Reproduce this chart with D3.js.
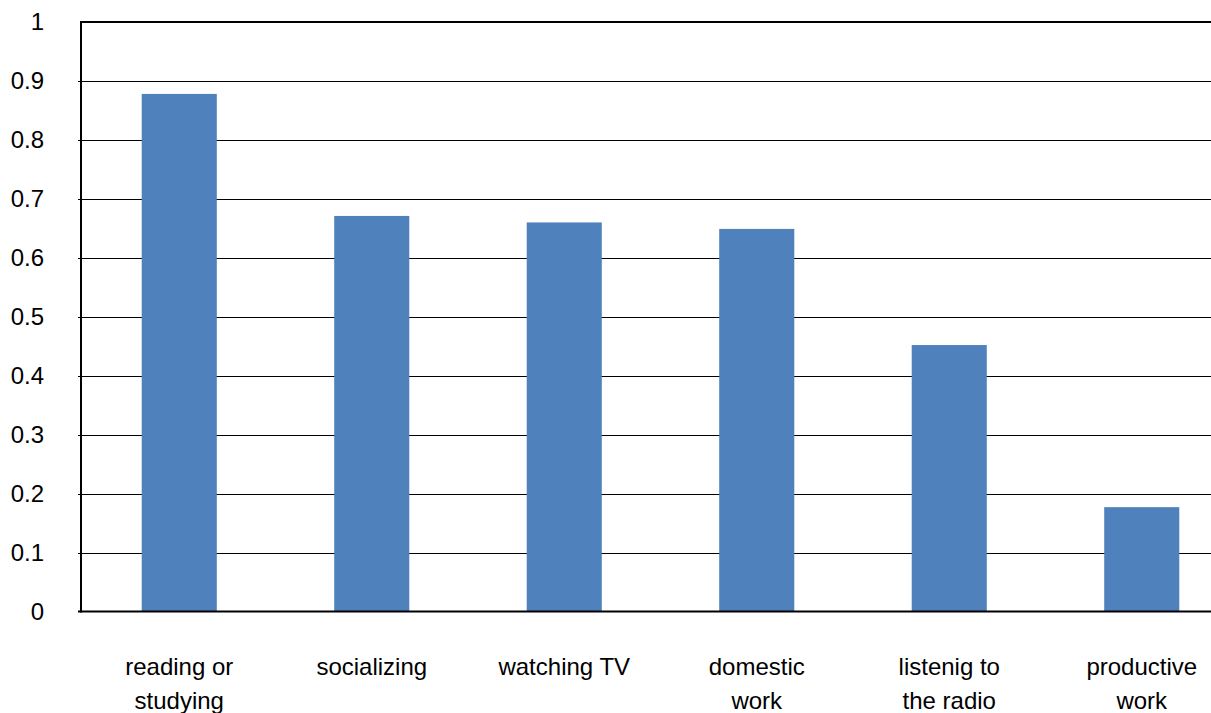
<!DOCTYPE html>
<html>
<head>
<meta charset="utf-8">
<script src="https://cdn.jsdelivr.net/npm/d3@7"></script>
<style>
  html, body { margin: 0; padding: 0; background: #fff; }
  svg { display: block; font-family: "Liberation Sans", Arial, sans-serif; }
</style>
</head>
<body>
<svg id="chart" width="1211" height="713"></svg>
<script>
// Share of respondents by activity
const categories = [
  ["reading or", "studying"],
  ["socializing"],
  ["watching TV"],
  ["domestic", "work"],
  ["listenig to", "the radio"],
  ["productive", "work"]
];
const values = [0.878, 0.671, 0.660, 0.649, 0.452, 0.177];
const yTicks = [0, 0.1, 0.2, 0.3, 0.4, 0.5, 0.6, 0.7, 0.8, 0.9, 1];
const yTickLabels = ["0", "0.1", "0.2", "0.3", "0.4", "0.5", "0.6", "0.7", "0.8", "0.9", "1"];

const svg = d3.select("#chart");
const W = 1211;
const plotLeft = 81, plotTop = 22, plotBottom = 611.5;

const keys = categories.map((c, i) => i);
const x = d3.scaleBand().domain(keys).range([83, 83 + 6 * 192.5])
  .paddingInner(0.61).paddingOuter(0.305);
const y = d3.scaleLinear().domain([0, 1]).range([plotBottom, plotTop]);

// horizontal gridlines
svg.append("g").selectAll("line")
  .data(yTicks.filter(t => t > 0 && t < 1))
  .join("line")
  .attr("x1", plotLeft - 3).attr("x2", W)
  .attr("y1", d => Math.round(y(d)) + 0.5).attr("y2", d => Math.round(y(d)) + 0.5)
  .attr("stroke", "#000").attr("stroke-width", 1);

// bars
svg.append("g").selectAll("rect")
  .data(values)
  .join("rect")
  .attr("x", (d, i) => x(i))
  .attr("width", x.bandwidth())
  .attr("y", d => y(d))
  .attr("height", d => y(0) - y(d))
  .attr("fill", "#4F81BD");

// frame: top edge, left axis, baseline
svg.append("line").attr("x1", plotLeft).attr("x2", W)
  .attr("y1", y(1)).attr("y2", y(1)).attr("stroke", "#000").attr("stroke-width", 2);
svg.append("line").attr("x1", plotLeft).attr("x2", plotLeft)
  .attr("y1", y(1) - 1).attr("y2", y(0) + 1).attr("stroke", "#000").attr("stroke-width", 2);
svg.append("line").attr("x1", plotLeft - 3).attr("x2", W)
  .attr("y1", y(0)).attr("y2", y(0)).attr("stroke", "#000").attr("stroke-width", 2);

// y tick labels
svg.append("g").selectAll("text")
  .data(yTicks)
  .join("text")
  .attr("x", 44)
  .attr("y", d => y(d) + 8)
  .attr("text-anchor", "end")
  .attr("font-size", 24)
  .attr("fill", "#000")
  .text((d, i) => yTickLabels[i]);

// category labels
const cat = svg.append("g").selectAll("text")
  .data(categories)
  .join("text")
  .attr("text-anchor", "middle")
  .attr("font-size", 24)
  .attr("fill", "#000");
cat.each(function(lines, i) {
  const t = d3.select(this);
  lines.forEach((ln, j) => {
    t.append("tspan")
      .attr("x", x(i) + x.bandwidth() / 2)
      .attr("y", 675 + j * 34)
      .text(ln);
  });
});
</script>
</body>
</html>
